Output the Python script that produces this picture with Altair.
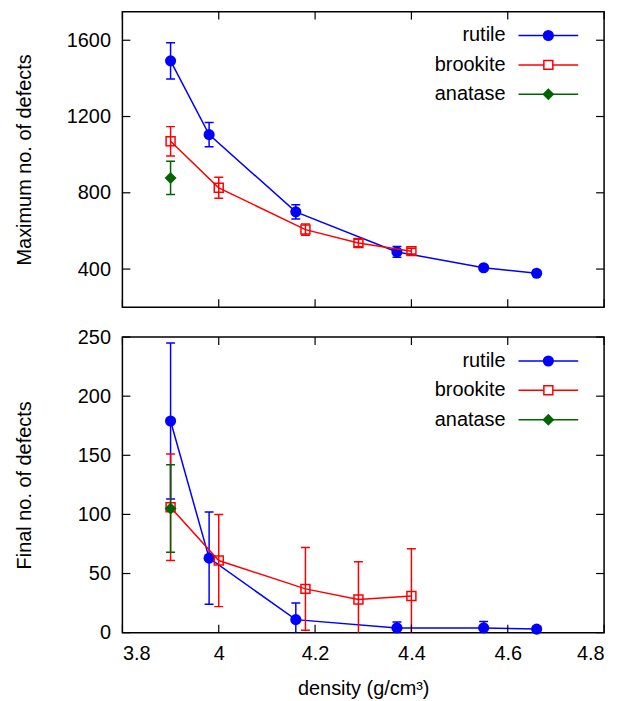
import altair as alt
import pandas as pd

# ---------------- data ----------------
series_names = ["rutile", "brookite", "anatase"]

density_rutile = [3.90, 3.98, 4.16, 4.37, 4.55, 4.66]
max_rutile = [1492, 1105, 700, 490, 407, 378]
max_rutile_err = [95, 63, 37, 28, 10, 8]
final_rutile = [179, 63, 11, 4, 4, 3]
final_rutile_err = [66, 39, 14, 5, 5.5, 2]

density_brookite = [3.90, 4.00, 4.18, 4.29, 4.40]
max_brookite = [1070, 826, 607, 537, 494]
max_brookite_err = [77, 55, 30, 20, 15]
final_brookite = [106, 61, 37, 28, 31]
final_brookite_err = [45, 39, 35, 32, 40]

density_anatase = [3.90]
max_anatase = [878]
max_anatase_err = [87]
final_anatase = [105]
final_anatase_err = [37]

x_ticks = [3.8, 4.0, 4.2, 4.4, 4.6, 4.8]
top_y_ticks = [400, 800, 1200, 1600]
bottom_y_ticks = [0, 50, 100, 150, 200, 250]

# ---------------- styling ----------------
FONT = "Liberation Sans"
FS = 20
W, H = 484, 297
TICK = 8
colors = {"rutile": "#0000ff", "brookite": "#ff0000", "anatase": "#006400"}
point_style = {
    "rutile": dict(shape="circle", filled=True, size=125),
    "brookite": dict(shape="square", filled=False, size=81, strokeWidth=1.5),
    "anatase": dict(shape="diamond", filled=True, size=144),
}


def panel(data, ydomain, yticks, ytitle, bottom):
    xscale = alt.Scale(domain=[3.8, 4.8], nice=False, zero=False)
    yscale = alt.Scale(domain=ydomain, nice=False, zero=False)
    if bottom:
        xaxis = alt.Axis(values=x_ticks, format="~g", title="density (g/cm³)",
                         ticks=False, domain=False, grid=False,
                         labelPadding=11, labelFontSize=FS, labelFont=FONT,
                         labelColor="black", titleFont=FONT, titleFontSize=FS,
                         titleFontWeight="normal", titleColor="black",
                         titleBaseline="alphabetic", titleY=62, titleX=W / 2)
    else:
        xaxis = None
    yaxis = alt.Axis(values=yticks, format="d", title=ytitle, ticks=False,
                     domain=False, grid=False, labelPadding=12,
                     labelFontSize=FS, labelFont=FONT, labelColor="black",
                     titleFont=FONT, titleFontSize=FS, titleFontWeight="normal",
                     titleColor="black", titleBaseline="alphabetic",
                     titleX=-92, titleY=H / 2)

    def X(f):
        return alt.X(f, type="quantitative", scale=xscale, axis=xaxis)

    def Y(f):
        return alt.Y(f, type="quantitative", scale=yscale, axis=yaxis)

    layers = []
    for name in series_names:
        xs, ys, es = data[name]
        df = pd.DataFrame({"x": xs, "y": ys, "e": es})
        base = alt.Chart(df).transform_calculate(
            lo="datum.y - datum.e", hi="datum.y + datum.e")
        c = colors[name]
        layers.append(base.mark_rule(color=c, strokeWidth=1.5, clip=True)
                      .encode(x=X("x"), y=Y("lo"), y2="hi:Q"))
        for f in ["lo", "hi"]:
            layers.append(base.mark_rule(color=c, strokeWidth=1.5, clip=True,
                                         xOffset=-4.5, x2Offset=4.5)
                          .encode(x=X("x"), x2="x:Q", y=Y(f)))
        layers.append(base.mark_line(color=c, strokeWidth=1.5)
                      .encode(x=X("x"), y=Y("y")))
        ps = point_style[name]
        layers.append(base.mark_point(color=c, opacity=1, **ps)
                      .encode(x=X("x"), y=Y("y")))

    # inward ticks on all four sides
    ydf = pd.DataFrame({"v": yticks})
    xdf = pd.DataFrame({"v": x_ticks})
    layers.append(alt.Chart(ydf).mark_rule(color="black", strokeWidth=1.2)
                  .encode(y=Y("v"), x=alt.value(0), x2=alt.value(TICK)))
    layers.append(alt.Chart(ydf).mark_rule(color="black", strokeWidth=1.2)
                  .encode(y=Y("v"), x=alt.value(W - TICK), x2=alt.value(W)))
    layers.append(alt.Chart(xdf).mark_rule(color="black", strokeWidth=1.2)
                  .encode(x=X("v"), y=alt.value(H - TICK), y2=alt.value(H)))
    layers.append(alt.Chart(xdf).mark_rule(color="black", strokeWidth=1.2)
                  .encode(x=X("v"), y=alt.value(0), y2=alt.value(TICK)))

    # key (top right, label left of sample)
    for i, name in enumerate(series_names):
        row = 24 + 29.5 * i
        kdf = pd.DataFrame({"label": [name]})
        c = colors[name]
        layers.append(alt.Chart(kdf).mark_text(align="right", baseline="middle",
                                               font=FONT, fontSize=FS, color="black")
                      .encode(text="label:N", x=alt.value(385), y=alt.value(row)))
        layers.append(alt.Chart(kdf).mark_rule(color=c, strokeWidth=1.5)
                      .encode(x=alt.value(398), x2=alt.value(458), y=alt.value(row)))
        if name == "brookite":
            ps = dict(shape="square", filled=True, fill="white", stroke=c,
                      size=81, strokeWidth=1.5)
            layers.append(alt.Chart(kdf).mark_point(opacity=1, **ps)
                          .encode(x=alt.value(428), y=alt.value(row)))
        else:
            ps = point_style[name]
            layers.append(alt.Chart(kdf).mark_point(color=c, opacity=1, **ps)
                          .encode(x=alt.value(428), y=alt.value(row)))

    return alt.layer(*layers).properties(width=W, height=H)


top = panel({"rutile": (density_rutile, max_rutile, max_rutile_err),
             "brookite": (density_brookite, max_brookite, max_brookite_err),
             "anatase": (density_anatase, max_anatase, max_anatase_err)},
            [200, 1750], top_y_ticks, "Maximum no. of defects", False)
bottom = panel({"rutile": (density_rutile, final_rutile, final_rutile_err),
                "brookite": (density_brookite, final_brookite, final_brookite_err),
                "anatase": (density_anatase, final_anatase, final_anatase_err)},
               [0, 250], bottom_y_ticks, "Final no. of defects", True)

chart = alt.vconcat(top, bottom, spacing=17).properties(
    padding={"left": 14, "top": 8, "right": 14, "bottom": 0},
    background="white",
).configure_view(stroke="black", strokeWidth=1.5)

chart.save("out.html", embed_options={"renderer": "svg", "actions": False})
